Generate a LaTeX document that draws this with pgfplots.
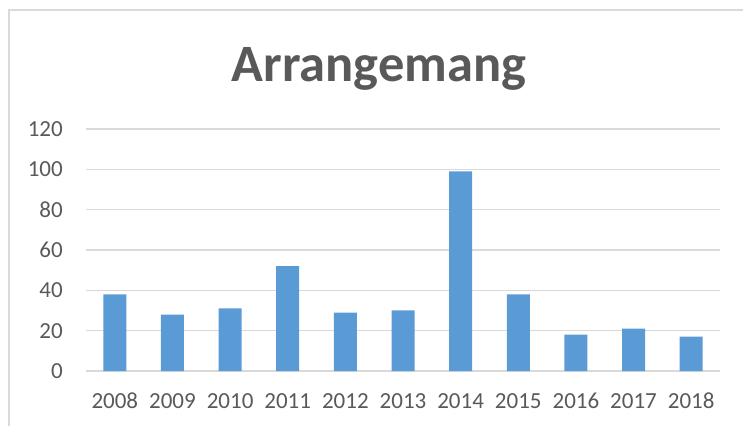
\documentclass[border=0pt]{standalone}
\usepackage{pgfplots}
\pgfplotsset{compat=1.18}
\usepackage{fontspec}
\setmainfont{Carlito}
\definecolor{barblue}{HTML}{5B9BD5}
\definecolor{txtgray}{HTML}{595959}
\definecolor{gridgray}{HTML}{D9D9D9}
\begin{document}
\begin{tikzpicture}[x=1pt,y=1pt]
\useasboundingbox (0,0) rectangle (743,425);
\draw[gridgray, line width=1.5pt] (9,-5) -- (9,415) -- (750,415);
\node[font=\fontsize{52.5}{60}\selectfont\bfseries, text=txtgray, anchor=base, inner sep=0pt] at (379,343) {Arrangemang};
\begin{axis}[
  at={(86pt,54pt)}, anchor=south west,
  scale only axis, width=634pt, height=242pt,
  xmin=-0.5, xmax=10.5, ymin=0, ymax=120,
  xtick={0,...,10},
  xticklabels={2008,2009,2010,2011,2012,2013,2014,2015,2016,2017,2018},
  ytick={0,20,...,120},
  ymajorgrids, grid style={gridgray, line width=1.5pt},
  axis line style={draw=none},
  major tick length=0pt,
  tick label style={font=\fontsize{23}{27}\selectfont, text=txtgray, inner sep=0pt},
  yticklabel style={anchor=east, xshift=-23pt},
  xticklabel style={anchor=north, yshift=-22pt},
  /pgf/number format/assume math mode=true,
  clip=false,
]
\addplot[ybar, bar width=23pt, fill=barblue, draw=none] coordinates {
(0,38) (1,28) (2,31) (3,52) (4,29) (5,30) (6,99) (7,38) (8,18) (9,21) (10,17)};
\end{axis}
\end{tikzpicture}
\end{document}
